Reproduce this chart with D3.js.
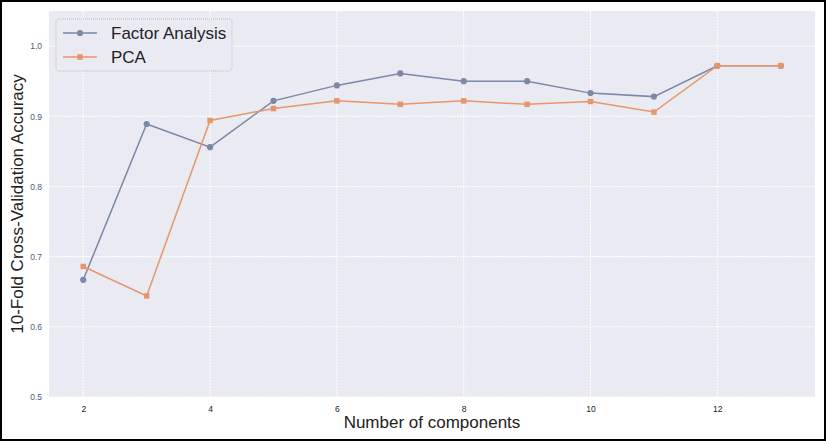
<!DOCTYPE html>
<html><head><meta charset="utf-8">
<script src="https://cdn.jsdelivr.net/npm/d3@7"></script>
<style>body{margin:0;background:#fff}svg{display:block;font-family:"Liberation Sans",Arial,sans-serif}</style>
</head><body><div id="chart"></div>
<script>
const components = [2, 3, 4, 5, 6, 7, 8, 9, 10, 11, 12, 13];
const faScores = [0.667, 0.889, 0.856, 0.922, 0.944, 0.961, 0.950, 0.950, 0.933, 0.928, 0.972, 0.972];
const pcaScores = [0.686, 0.644, 0.894, 0.911, 0.922, 0.917, 0.922, 0.917, 0.921, 0.906, 0.972, 0.972];
const xTicks = [2, 4, 6, 8, 10, 12];
const yTicks = [0.5, 0.6, 0.7, 0.8, 0.9, 1.0];

const W = 826, H = 441;
const m = { left: 49, right: 11, top: 11, bottom: 44 };

const svg = d3.select('#chart').append('svg').attr('width', W).attr('height', H);
svg.append('rect').attr('x', 1).attr('y', 1).attr('width', W - 2).attr('height', H - 2)
  .attr('fill', '#fff').attr('stroke', '#000').attr('stroke-width', 2);

const x = d3.scaleLinear().domain([1.46, 13.54]).range([m.left, W - m.right]);
const y = d3.scaleLinear().domain([0.5, 1.05]).range([H - m.bottom, m.top]);

svg.append('rect').attr('x', m.left).attr('y', m.top)
  .attr('width', W - m.left - m.right).attr('height', H - m.top - m.bottom).attr('fill', '#eaeaf2');

// grid
svg.append('g').selectAll('line').data(xTicks).join('line')
  .attr('x1', d => x(d)).attr('x2', d => x(d)).attr('y1', m.top).attr('y2', H - m.bottom)
  .attr('stroke', '#fff').attr('stroke-dasharray', '2,1');
svg.append('g').selectAll('line').data(yTicks).join('line')
  .attr('x1', m.left).attr('x2', W - m.right).attr('y1', d => y(d)).attr('y2', d => y(d))
  .attr('stroke', '#fff').attr('stroke-dasharray', '2,1');

const xAxis = svg.append('g').attr('transform', `translate(0,${H - m.bottom})`)
  .call(d3.axisBottom(x).tickValues(xTicks).tickSize(0).tickPadding(9));
xAxis.select('.domain').remove();
xAxis.selectAll('text').attr('font-size', 8.5).attr('fill', '#222');

const yAxis = svg.append('g').attr('transform', `translate(${m.left},0)`)
  .call(d3.axisLeft(y).tickValues(yTicks).tickFormat(d3.format('.1f')).tickSize(0).tickPadding(7));
yAxis.select('.domain').remove();
yAxis.selectAll('text').attr('font-size', 8.5).attr('fill', '#4c5a7e');

svg.append('text').attr('x', (m.left + W - m.right) / 2).attr('y', 428)
  .attr('text-anchor', 'middle').attr('font-size', 17).attr('fill', '#222').text('Number of components');
svg.append('text').attr('transform', `translate(23,${(m.top + H - m.bottom) / 2}) rotate(-90)`)
  .attr('text-anchor', 'middle').attr('font-size', 17).attr('fill', '#222').text('10-Fold Cross-Validation Accuracy');

const series = [
  { name: 'Factor Analysis', values: faScores, color: '#7b88a6', shape: 'circle' },
  { name: 'PCA', values: pcaScores, color: '#e8956a', shape: 'square' }
];
const line = d3.line().x((d, i) => x(components[i])).y(d => y(d));

series.forEach(s => {
  svg.append('path').datum(s.values).attr('d', line).attr('fill', 'none')
    .attr('stroke', s.color).attr('stroke-width', 1.5);
  svg.append('g').selectAll('path').data(s.values).join('path')
    .attr('transform', (d, i) => `translate(${x(components[i])},${y(d)})`)
    .attr('d', d3.symbol(s.shape === 'circle' ? d3.symbolCircle : d3.symbolSquare, 30))
    .attr('fill', s.color);
});

const lg = svg.append('g');
lg.append('rect').attr('x', 56).attr('y', 19).attr('width', 176).attr('height', 52).attr('rx', 3)
  .attr('fill', '#eaeaf2').attr('stroke', '#bbb').attr('stroke-dasharray', '1,1');
series.forEach((s, i) => {
  const yy = 33 + i * 24;
  lg.append('line').attr('x1', 63).attr('x2', 97).attr('y1', yy).attr('y2', yy)
    .attr('stroke', s.color).attr('stroke-width', 1.5);
  lg.append('path').attr('transform', `translate(80,${yy})`)
    .attr('d', d3.symbol(s.shape === 'circle' ? d3.symbolCircle : d3.symbolSquare, 30)).attr('fill', s.color);
  lg.append('text').attr('x', 111).attr('y', yy + 6).attr('font-size', 17).attr('fill', '#222').text(s.name);
});
</script></body></html>
